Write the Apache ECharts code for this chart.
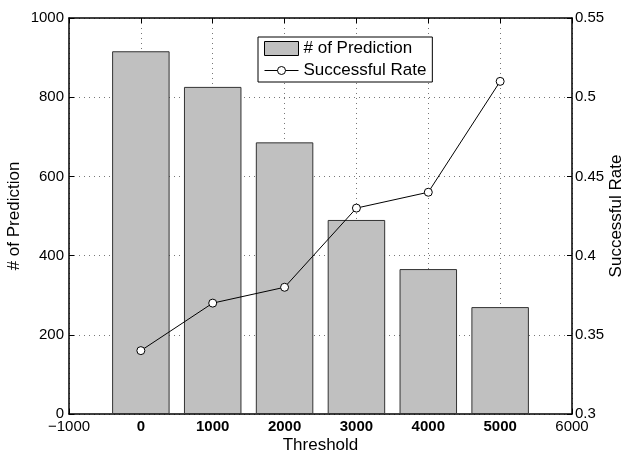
<!DOCTYPE html>
<html><head><meta charset="utf-8">
<script src="https://cdn.jsdelivr.net/npm/echarts@6/dist/echarts.min.js"></script>
<style>html,body{margin:0;padding:0;background:#fff}#c{width:626px;height:453px}</style>
</head><body><div id="c"></div>
<script>
var thresholds = [0, 1000, 2000, 3000, 4000, 5000];
var predictions = [916, 826, 686, 490, 366, 270];
var successRate = [0.34, 0.37, 0.38, 0.43, 0.44, 0.51];
var xTicks = [-1000, 0, 1000, 2000, 3000, 4000, 5000, 6000];
var leftTicks = [0, 200, 400, 600, 800, 1000];
var rightTicks = [0.3, 0.35, 0.4, 0.45, 0.5, 0.55];

var F = 'Liberation Sans, Arial, Helvetica, sans-serif';
var chart = echarts.init(document.getElementById('c'), null, {renderer: 'canvas'});
var barData = thresholds.map(function(t, i){ return [t, predictions[i]]; });
var lineData = thresholds.map(function(t, i){ return [t, successRate[i]]; });
var tickStyle = {show: true, inside: true, length: 5, lineStyle: {color: '#000'}};
var lineAx = {show: true, onZero: false, lineStyle: {color: '#000', width: 1.5}};
var grid = {show: true, lineStyle: {color: '#777', type: [1, 4], width: 1}};

chart.setOption({
  animation: false,
  backgroundColor: '#fff',
  grid: {left: 69, right: 54, top: 18, bottom: 39, outerBoundsMode: 'none', containLabel: false},
  legend: {
    left: 258, top: 37, orient: 'vertical',
    itemWidth: 34, itemHeight: 14, itemGap: 5,
    padding: [3, 6, 3, 6],
    borderColor: '#000', borderWidth: 1, backgroundColor: '#fff',
    textStyle: {fontFamily: F, fontSize: 17, color: '#000'},
    data: [
      {name: '# of Prediction', icon: 'rect', itemStyle: {color: '#c0c0c0', borderColor: '#000', borderWidth: 1}},
      {name: 'Successful Rate', icon: 'path://M0 4 L13 4 M21 4 A4 4 0 1 1 13 4 A4 4 0 1 1 21 4 M21 4 L34 4 M0 0 M34 8',
       itemStyle: {color: 'rgba(0,0,0,0)', borderColor: '#000', borderWidth: 1}}
    ]
  },
  xAxis: [{
    type: 'value', min: -1000, max: 6000, interval: 1000,
    name: 'Threshold', nameLocation: 'middle', nameGap: 23, nameMoveOverlap: false,
    nameTextStyle: {fontFamily: F, fontSize: 17, color: '#000'},
    axisLine: lineAx, axisTick: tickStyle,
    axisLabel: {fontFamily: F, fontSize: 15, color: '#000', margin: 5,
      formatter: function(v){ if (v === -1000 || v === 6000) return '{n|' + String(v).replace('-', '\u2212') + '}'; return '{b|' + v + '}'; },
      rich: {n: {fontFamily: F, fontSize: 15, color: '#000'}, b: {fontFamily: F, fontSize: 15, color: '#000', fontWeight: 'bold'}}
    },
    splitLine: grid
  }, {
    type: 'value', position: 'top', min: -1000, max: 6000, interval: 1000,
    axisLine: lineAx, axisTick: tickStyle,
    axisLabel: {show: false}, splitLine: {show: false}
  }],
  yAxis: [{
    type: 'value', min: 0, max: 1000, interval: 200, position: 'left',
    name: '# of Prediction', nameLocation: 'middle', nameGap: 46, nameRotate: 90, nameMoveOverlap: false,
    nameTextStyle: {fontFamily: F, fontSize: 17, color: '#000'},
    axisLine: lineAx, axisTick: tickStyle,
    axisLabel: {fontFamily: F, fontSize: 15, color: '#000', margin: 5,
      formatter: function(v){ return String(v); }},
    splitLine: grid
  }, {
    type: 'value', min: 0.3, max: 0.55, interval: 0.05, position: 'right',
    name: 'Successful Rate', nameLocation: 'middle', nameGap: 36, nameRotate: 90, nameMoveOverlap: false,
    nameTextStyle: {fontFamily: F, fontSize: 17, color: '#000'},
    axisLine: lineAx, axisTick: tickStyle,
    axisLabel: {fontFamily: F, fontSize: 15, color: '#000', margin: 3,
      formatter: function(v){ return String(Math.round(v*100)/100); }},
    splitLine: {show: false}
  }],
  series: [{
    name: '# of Prediction', type: 'bar', xAxisIndex: 0, yAxisIndex: 0,
    data: barData, barWidth: 57.5,
    itemStyle: {color: '#c0c0c0', borderColor: '#333', borderWidth: 1}
  }, {
    name: 'Successful Rate', type: 'line', xAxisIndex: 0, yAxisIndex: 1,
    data: lineData, symbol: 'circle', symbolSize: 8, z: 5,
    lineStyle: {color: '#000', width: 1},
    itemStyle: {color: '#fff', borderColor: '#000', borderWidth: 1}
  }]
});
</script></body></html>
